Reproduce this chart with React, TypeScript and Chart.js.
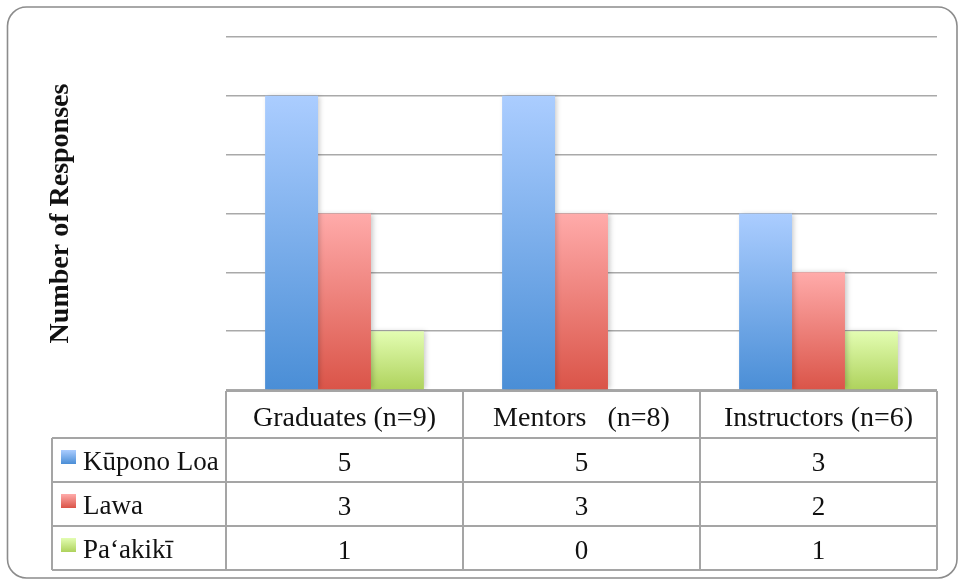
import React, { useEffect, useRef } from 'react';
import { Chart, registerables } from 'chart.js';

Chart.register(...registerables);

const categories = ['Graduates (n=9)', 'Mentors   (n=8)', 'Instructors (n=6)'];
const seriesNames = ['Kūpono Loa', 'Lawa', 'Pa‘akikī'];
const kuponoLoa = [5, 5, 3];
const lawa = [3, 3, 2];
const paakiki = [1, 0, 1];
const yMin = 0;
const yMax = 6;
const yStep = 1;
const yTitle = 'Number of Responses';

const seriesValues = [kuponoLoa, lawa, paakiki];
const gradientStops = [
  ['#abcdff', '#4a8ed6'],
  ['#ffabaa', '#da5448'],
  ['#e3fdb2', '#aed25c'],
];

const FONT = "'Liberation Serif', 'Times New Roman', serif";

function barGradient(si: number) {
  return (context: any) => {
    const chart = context.chart;
    const { ctx, chartArea } = chart;
    const yScale = chart.scales?.y;
    if (!chartArea || !yScale || context.parsed == null) return gradientStops[si][1];
    const v = context.parsed.y;
    const top = yScale.getPixelForValue(v);
    const base = yScale.getPixelForValue(0);
    if (Math.abs(base - top) < 1) return gradientStops[si][1];
    const g = ctx.createLinearGradient(0, top, 0, base);
    g.addColorStop(0, gradientStops[si][0]);
    g.addColorStop(1, gradientStops[si][1]);
    return g;
  };
}

const framePlugin = {
  id: 'frame',
  beforeDraw(chart: any) {
    const ctx = chart.ctx;
    ctx.save();
    ctx.fillStyle = '#ffffff';
    ctx.fillRect(0, 0, chart.width, chart.height);
    ctx.beginPath();
    ctx.strokeStyle = '#8c8c8c';
    ctx.lineWidth = 1.6;
    ctx.roundRect(7.5, 7, 949.5, 571, 19);
    ctx.stroke();
    ctx.restore();
  },
};

const shadowPlugin = {
  id: 'barShadow',
  beforeDatasetsDraw(chart: any) {
    const ctx = chart.ctx;
    ctx.save();
    ctx.shadowColor = 'rgba(0,0,0,0.22)';
    ctx.shadowBlur = 5;
    ctx.shadowOffsetX = 2;
    ctx.shadowOffsetY = 0;
  },
  afterDatasetsDraw(chart: any) {
    chart.ctx.restore();
  },
};

const tablePlugin = {
  id: 'dataTable',
  afterDraw(chart: any) {
    const { ctx, chartArea } = chart;
    const x = chart.scales.x;
    const n = categories.length;
    const colW = (x.right - x.left) / n;
    const top = chartArea.bottom + 1;
    const headerH = 47;
    const rowH = 44;
    const legendLeft = 52;
    const right = x.right;
    const bottom = top + headerH + rowH * seriesNames.length;

    ctx.save();
    ctx.strokeStyle = '#a5a5a5';
    ctx.lineWidth = 2;
    const line = (x1: number, y1: number, x2: number, y2: number) => {
      ctx.beginPath();
      ctx.moveTo(x1, y1);
      ctx.lineTo(x2, y2);
      ctx.stroke();
    };
    line(x.left, top, right, top);
    for (let k = 0; k <= seriesNames.length; k++) {
      const yy = top + headerH + k * rowH;
      line(legendLeft, yy, right, yy);
    }
    line(legendLeft, top + headerH, legendLeft, bottom);
    for (let c = 0; c <= n; c++) {
      const xx = x.left + c * colW;
      line(xx, top, xx, bottom);
    }

    ctx.fillStyle = '#111111';
    ctx.textAlign = 'center';
    ctx.textBaseline = 'alphabetic';
    ctx.font = `28px ${FONT}`;
    categories.forEach((cat, i) => {
      const cx = x.getPixelForValue(i);
      ctx.fillText(cat, cx, top + headerH - 12);
    });

    ctx.font = `27px ${FONT}`;
    seriesValues.forEach((vals, si) => {
      const rowBottom = top + headerH + (si + 1) * rowH;
      vals.forEach((v, i) => {
        const cx = x.getPixelForValue(i);
        ctx.fillText(String(v), cx, rowBottom - 11.5);
      });
      // legend key
      const boxTop = rowBottom - rowH + 12;
      const g = ctx.createLinearGradient(0, boxTop, 0, boxTop + 14);
      g.addColorStop(0, gradientStops[si][0]);
      g.addColorStop(1, gradientStops[si][1]);
      ctx.fillStyle = g;
      ctx.fillRect(61, boxTop, 15, 14);
      ctx.fillStyle = '#111111';
      ctx.textAlign = 'left';
      ctx.fillText(seriesNames[si], 83, rowBottom - 12.5);
      ctx.textAlign = 'center';
    });
    ctx.restore();
  },
};

export default function App() {
  const canvasRef = useRef<HTMLCanvasElement | null>(null);

  useEffect(() => {
    if (!canvasRef.current) return;
    const chart = new Chart(canvasRef.current, {
      type: 'bar',
      data: {
        labels: categories,
        datasets: seriesNames.map((name, si) => ({
          label: name,
          data: seriesValues[si],
          backgroundColor: barGradient(si),
          borderWidth: 0,
          categoryPercentage: 0.67,
          barPercentage: 1.0,
        })),
      },
      options: {
        animation: false,
        responsive: true,
        maintainAspectRatio: false,
        layout: { padding: { top: 37, right: 21, bottom: 191, left: 0 } },
        plugins: {
          legend: { display: false },
          tooltip: { enabled: false },
          title: { display: false },
        },
        scales: {
          x: {
            display: false,
          },
          y: {
            min: yMin,
            max: yMax,
            ticks: { display: false, stepSize: yStep },
            grid: {
              color: '#a9a9a9',
              lineWidth: 1.6,
              drawTicks: false,
            },
            border: { display: false },
            title: {
              display: true,
              text: yTitle,
              color: '#111111',
              font: { family: FONT, size: 28, weight: 'bold' },
              padding: { top: 44, bottom: 0 },
            },
            afterFit(scale: any) {
              scale.width = 226;
            },
          },
        },
      },
      plugins: [framePlugin, shadowPlugin, tablePlugin],
    });
    return () => chart.destroy();
  }, []);

  return (
    <div style={{ position: 'absolute', left: 0, top: 0, width: 958, height: 581 }}>
      <canvas ref={canvasRef} />
    </div>
  );
}
